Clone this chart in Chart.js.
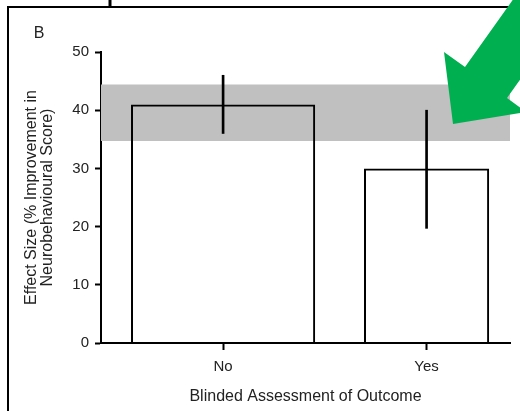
<!DOCTYPE html>
<html>
<head>
<meta charset="utf-8">
<script src="https://cdn.jsdelivr.net/npm/chart.js@4/dist/chart.umd.min.js"></script>
<style>
  body { margin: 0; background: #fff; }
  #wrap { width: 520px; height: 411px; position: relative; }
</style>
</head>
<body>
<div id="wrap"><canvas id="chart"></canvas></div>
<script>
// data
var panelLabel = 'B';
var categories = ['No', 'Yes'];
var catPos = [1, 2];
var means = [41, 30];
var errLow = [36, 19.7];
var errHigh = [46, 40];
var bandLow = 34.7;
var bandHigh = 44.4;
var yTicks = [0, 10, 20, 30, 40, 50];

var xMin = 0.4, xMax = 2.41;
var barWidths = [0.905, 0.615]; // share of the category slot
var textColor = '#222';
var fontFamily = "'Liberation Sans', Arial, sans-serif";

var datasets = [];

// grey reference band
datasets.push({
    type: 'line',
    data: [{ x: xMin, y: bandHigh }, { x: xMax, y: bandHigh }],
    borderWidth: 0,
    pointRadius: 0,
    backgroundColor: '#c0c0c0',
    fill: { value: bandLow },
    order: 3
});

// open bars, one dataset each so they can have their own width
categories.forEach(function (cat, i) {
    datasets.push({
        type: 'bar',
        label: cat,
        data: [{ x: catPos[i], y: means[i] }],
        backgroundColor: 'rgba(0,0,0,0)',
        borderColor: '#000',
        borderWidth: 2,
        borderSkipped: 'start',
        grouped: false,
        barPercentage: barWidths[i],
        categoryPercentage: 1,
        order: 2
    });
});

// error bars as thin floating bars
datasets.push({
    type: 'bar',
    data: categories.map(function (c, i) { return { x: catPos[i], y: [errLow[i], errHigh[i]] }; }),
    backgroundColor: '#000',
    borderWidth: 0,
    barThickness: 2,
    grouped: false,
    order: 1
});

var decorPlugin = {
    id: 'decor',
    beforeDraw: function (chart) {
        var ctx = chart.ctx;
        ctx.save();
        ctx.fillStyle = '#fff';
        ctx.fillRect(0, 0, chart.width, chart.height);
        // panel frame
        ctx.strokeStyle = '#000';
        ctx.lineWidth = 2;
        ctx.strokeRect(8, 7, 540, 440);
        ctx.lineWidth = 3;
        ctx.beginPath();
        ctx.moveTo(110, 0);
        ctx.lineTo(110, 7);
        ctx.stroke();
        // panel letter
        ctx.fillStyle = textColor;
        ctx.font = '16px ' + fontFamily;
        ctx.textAlign = 'center';
        ctx.textBaseline = 'middle';
        ctx.fillText(panelLabel, 39, 34);
        ctx.restore();
    },
    afterDraw: function (chart) {
        // green pointer arrow
        var ctx = chart.ctx;
        ctx.save();
        ctx.fillStyle = '#00b050';
        ctx.beginPath();
        ctx.moveTo(453, 124);
        ctx.lineTo(444, 52);
        ctx.lineTo(465, 67);
        ctx.lineTo(581, -96);
        ctx.lineTo(623, -65);
        ctx.lineTo(507, 98);
        ctx.lineTo(526, 112);
        ctx.closePath();
        ctx.fill();
        ctx.restore();
    }
};

new Chart(document.getElementById('chart'), {
    data: { datasets: datasets },
    options: {
        responsive: true,
        maintainAspectRatio: false,
        animation: false,
        layout: { padding: { left: 24, right: 10, top: 52, bottom: 6 } },
        plugins: {
            legend: { display: false },
            tooltip: { enabled: false }
        },
        scales: {
            x: {
                type: 'linear',
                min: xMin,
                max: xMax,
                offset: false,
                afterFit: function (axis) { axis.height = 62; },
                afterBuildTicks: function (axis) {
                    axis.ticks = catPos.map(function (v) { return { value: v }; });
                },
                ticks: {
                    color: textColor,
                    font: { family: fontFamily, size: 15 },
                    padding: 8,
                    callback: function (v) { return categories[catPos.indexOf(v)]; }
                },
                grid: { offset: false, drawOnChartArea: false, tickLength: 7, tickWidth: 2, tickColor: '#000' },
                border: { color: '#000', width: 2 },
                title: {
                    display: true,
                    text: 'Blinded Assessment of Outcome',
                    color: textColor,
                    font: { family: fontFamily, size: 16, lineHeight: 1 },
                    padding: { top: 0, bottom: 0 }
                }
            },
            y: {
                min: 0,
                max: 50,
                afterFit: function (axis) { axis.width = 77; },
                afterBuildTicks: function (axis) {
                    axis.ticks = yTicks.map(function (v) { return { value: v }; });
                },
                ticks: {
                    color: textColor,
                    font: { family: fontFamily, size: 15 },
                    padding: 6
                },
                grid: { drawOnChartArea: false, tickLength: 6, tickWidth: 2, tickColor: '#000' },
                border: { color: '#000', width: 2 },
                title: {
                    display: true,
                    text: ['Effect Size (% Improvement in', 'Neurobehavioural Score)'],
                    color: textColor,
                    font: { family: fontFamily, size: 16, lineHeight: 1 },
                    padding: { top: 0, bottom: 0 }
                }
            }
        }
    },
    plugins: [decorPlugin]
});
</script>
</body>
</html>
